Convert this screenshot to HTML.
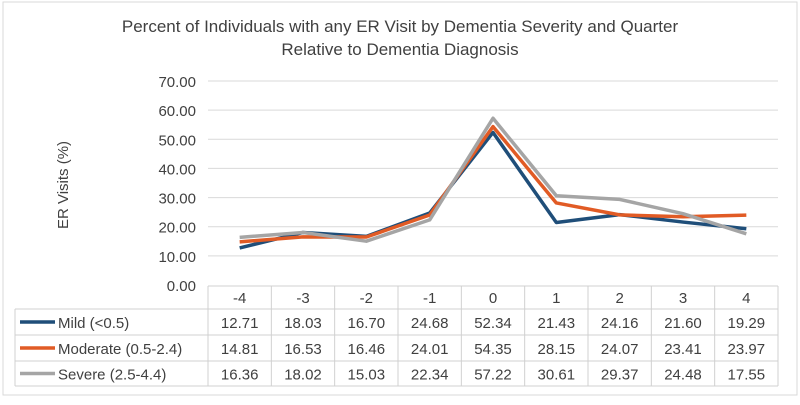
<!DOCTYPE html>
<html><head><meta charset="utf-8"><style>
body{margin:0;background:#fff;font-family:"Liberation Sans",Arial,sans-serif;}
svg text{font-family:"Liberation Sans",Arial,sans-serif;fill:#404040;}
</style></head><body>
<svg id="c" width="800" height="400" xmlns="http://www.w3.org/2000/svg">
<rect x="3" y="2" width="794" height="393" fill="#fff" stroke="#d9d9d9"/>
<text x="400" y="32" text-anchor="middle" font-size="17">Percent of Individuals with any ER Visit by Dementia Severity and Quarter</text>
<text x="400" y="55" text-anchor="middle" font-size="17">Relative to Dementia Diagnosis</text>
<text transform="translate(68,185) rotate(-90)" text-anchor="middle" font-size="15">ER Visits (%)</text>
<g id="grid"></g><g id="lines"></g><g id="tbl"></g>
</svg>
<script>
const categories=["-4","-3","-2","-1","0","1","2","3","4"];
const seriesNames=["Mild (<0.5)","Moderate (0.5-2.4)","Severe (2.5-4.4)"];
const mild=[12.71,18.03,16.70,24.68,52.34,21.43,24.16,21.60,19.29];
const moderate=[14.81,16.53,16.46,24.01,54.35,28.15,24.07,23.41,23.97];
const severe=[16.36,18.02,15.03,22.34,57.22,30.61,29.37,24.48,17.55];
const yTicks=[0,10,20,30,40,50,60,70];
const colors=["#1f4e79","#e15b25","#a5a5a5"];
const X0=208,X1=778,Y0=285,Y70=81,legL=15;
const cw=(X1-X0)/categories.length;
const x=i=>X0+cw*(i+0.5);
const y=v=>Y0-(v/70)*(Y0-Y70);
const NS="http://www.w3.org/2000/svg";
function mk(t,a,p,txt){const e=document.createElementNS(NS,t);for(const k in a)e.setAttribute(k,a[k]);if(txt!=null)e.textContent=txt;p.appendChild(e);return e;}
const g=document.getElementById('grid'),L=document.getElementById('lines'),T=document.getElementById('tbl');
yTicks.forEach(v=>{
 if(v>0){const l=mk('line',{x1:X0,x2:X1,y1:y(v),y2:y(v),stroke:'#d9d9d9','stroke-width':1},g);
 
 }
 const t=mk('text',{x:196,y:y(v)+6,'text-anchor':'end','font-size':15},g,v.toFixed(2));
 
 
});
[mild,moderate,severe].forEach((s,si)=>{
 const p=mk('polyline',{points:s.map((v,i)=>x(i)+','+y(v)).join(' '),fill:'none',stroke:colors[si],'stroke-width':3.5,'stroke-linejoin':'round'},L);
 
 
});
const rows=[286,309,335,361,386];
const gc='#d0d0d0';
rows.forEach((ry,ri)=>{mk('line',{x1:ri==0?X0:legL,x2:X1,y1:ry,y2:ry,stroke:gc},T);});
for(let i=0;i<=categories.length;i++){mk('line',{x1:X0+cw*i,x2:X0+cw*i,y1:rows[0],y2:rows[4],stroke:gc},T);}
mk('line',{x1:legL,x2:legL,y1:rows[1],y2:rows[4],stroke:gc},T);
categories.forEach((c,i)=>{
 const t=mk('text',{x:x(i),y:303,'text-anchor':'middle','font-size':15},T,c);
 
 
});
[mild,moderate,severe].forEach((s,si)=>{
 const cy=(rows[si+1]+rows[si+2])/2;
 const ln=mk('line',{x1:20,x2:55,y1:cy,y2:cy,stroke:colors[si],'stroke-width':3.5},T);
 
 
 const lt=mk('text',{x:58,y:cy+6,'font-size':15},T,seriesNames[si]);
 
 
 s.forEach((v,i)=>{
  const t=mk('text',{x:x(i),y:cy+6,'text-anchor':'middle','font-size':15},T,v.toFixed(2));
  
  
 });
});
</script>
</body></html>
